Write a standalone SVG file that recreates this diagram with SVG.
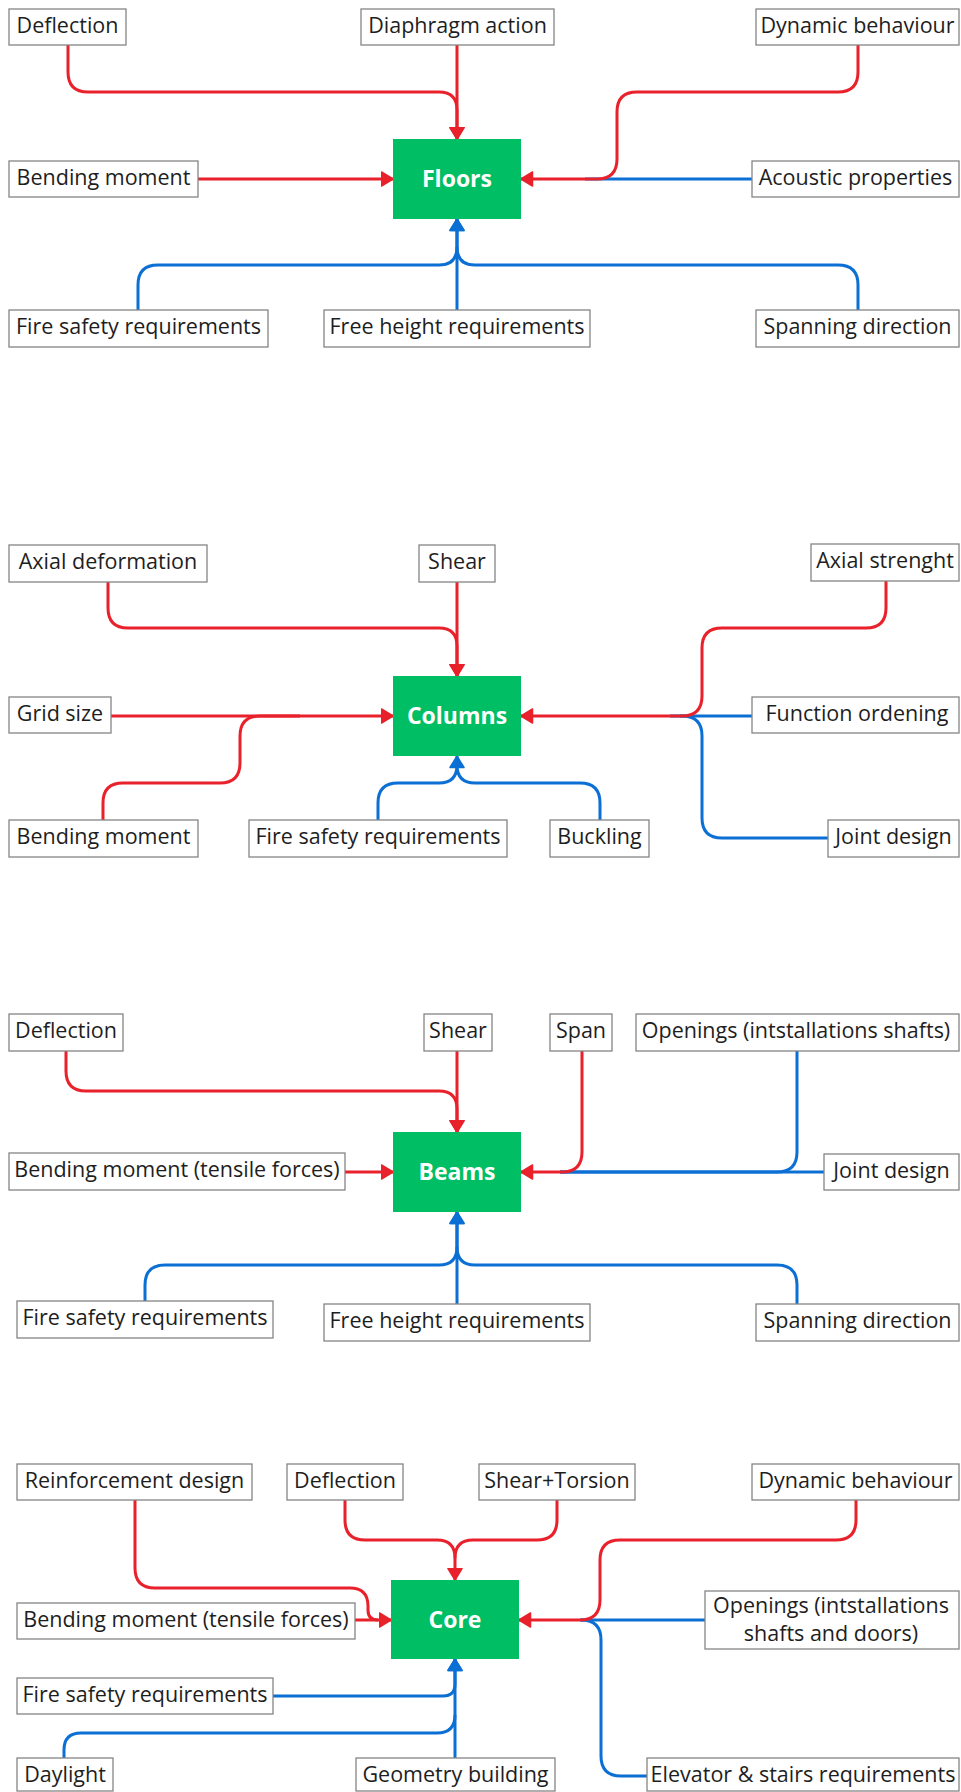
<svg xmlns="http://www.w3.org/2000/svg" width="961" height="1792" viewBox="0 0 961 1792">
  <style>
    .box { fill: #ffffff; stroke: #858585; stroke-width: 1.3; }
    .lbl { font-family: "Open Sans", "Noto Sans", "Liberation Sans", sans-serif; font-size: 21.5px; fill: #1e1e1e; text-anchor: middle; }
    .hub { fill: #00BE63; }
    .hubtxt { font-family: "Open Sans", "Noto Sans", "Liberation Sans", sans-serif; font-size: 23px; font-weight: bold; fill: #ffffff; text-anchor: middle; }
    .red { fill: none; stroke: #E8212B; stroke-width: 3; stroke-linejoin: round; }
    .blue { fill: none; stroke: #0B6FD4; stroke-width: 3; stroke-linejoin: round; }
    .ra { marker-end: url(#arrowRed); }
    .ba { marker-end: url(#arrowBlue); }
  </style>
  <defs>
    <marker id="arrowRed" viewBox="0 0 13 16" refX="12.5" refY="8" markerWidth="13" markerHeight="16" markerUnits="userSpaceOnUse" orient="auto">
      <path d="M1,1 L12.5,8 L1,15 Z" fill="#E8212B" stroke="#E8212B" stroke-width="1.5" stroke-linejoin="round"/>
    </marker>
    <marker id="arrowBlue" viewBox="0 0 13 16" refX="12.5" refY="8" markerWidth="13" markerHeight="16" markerUnits="userSpaceOnUse" orient="auto">
      <path d="M1,1 L12.5,8 L1,15 Z" fill="#0B6FD4" stroke="#0B6FD4" stroke-width="1.5" stroke-linejoin="round"/>
    </marker>
  </defs>
  <rect width="961" height="1792" fill="#ffffff"/>

  <!-- ===================== connectors ===================== -->
  <g id="connectors">
    <!-- Floors -->
    <path class="blue" d="M752,179 H585"/>
    <path class="blue ba" d="M138,310 V285 Q138,265 158,265 H439 Q457,265 457,247 V219"/>
    <path class="blue" d="M858,310 V285 Q858,265 838,265 H475 Q457,265 457,247"/>
    <path class="blue ba" d="M457,310 V219"/>
    <path class="red ra" d="M68,45 V72 Q68,92 88,92 H439 Q457,92 457,110 V139"/>
    <path class="red ra" d="M457,45 V139"/>
    <path class="red ra" d="M858,45 V72 Q858,92 838,92 H637 Q617,92 617,112 V159 Q617,179 597,179 H521"/>
    <path class="red ra" d="M198,179 H393"/>

    <!-- Columns -->
    <path class="blue" d="M752,716 H680"/>
    <path class="blue" d="M828,838 H722 Q702,838 702,818 V736 Q702,716 682,716 H670"/>
    <path class="blue ba" d="M378,820 V803 Q378,783 398,783 H439 Q457,783 457,765 V756"/>
    <path class="blue" d="M600,820 V803 Q600,783 580,783 H475 Q457,783 457,765"/>
    <path class="red ra" d="M108,582 V608 Q108,628 128,628 H439 Q457,628 457,646 V676"/>
    <path class="red ra" d="M457,582 V676"/>
    <path class="red ra" d="M886,581 V608 Q886,628 866,628 H722 Q702,628 702,648 V696 Q702,716 682,716 H521"/>
    <path class="red ra" d="M111,716 H393"/>
    <path class="red" d="M103,820 V803 Q103,783 123,783 H220 Q240,783 240,763 V736 Q240,716 260,716 H300"/>

    <!-- Beams -->
    <path class="blue" d="M797,1051 V1152 Q797,1172 777,1172 H560"/>
    <path class="blue" d="M824,1172 H560"/>
    <path class="blue ba" d="M145,1301 V1285 Q145,1265 165,1265 H439 Q457,1265 457,1247 V1212"/>
    <path class="blue" d="M797,1304 V1285 Q797,1265 777,1265 H475 Q457,1265 457,1247"/>
    <path class="blue ba" d="M457,1304 V1212"/>
    <path class="red ra" d="M66,1051 V1071 Q66,1091 86,1091 H439 Q457,1091 457,1109 V1132"/>
    <path class="red ra" d="M457,1051 V1132"/>
    <path class="red ra" d="M582,1051 V1152 Q582,1172 562,1172 H521"/>
    <path class="red ra" d="M345,1172 H393"/>

    <!-- Core -->
    <path class="blue" d="M705,1620 H580"/>
    <path class="blue" d="M647,1776 H621 Q601,1776 601,1756 V1640 Q601,1620 581,1620"/>
    <path class="blue ba" d="M273,1696 H443 Q455,1696 455,1684 V1659"/>
    <path class="blue" d="M64,1758 V1750 Q64,1733 81,1733 H437 Q455,1733 455,1715"/>
    <path class="blue ba" d="M455,1758 V1659"/>
    <path class="red" d="M135,1500 V1568 Q135,1588 155,1588 H350 Q368,1588 368,1606 V1610 Q368,1620 378,1620"/>
    <path class="red ra" d="M355,1620 H391"/>
    <path class="red ra" d="M345,1500 V1520 Q345,1540 365,1540 H437 Q455,1540 455,1558 V1580"/>
    <path class="red" d="M557,1500 V1520 Q557,1540 537,1540 H473 Q455,1540 455,1558"/>
    <path class="red ra" d="M856,1500 V1520 Q856,1540 836,1540 H620 Q600,1540 600,1560 V1600 Q600,1620 580,1620 H519"/>
  </g>

  <!-- ===================== Floors ===================== -->
  <g id="floors">
    <rect class="hub" x="393" y="139" width="128" height="80"/>
    <text class="hubtxt" x="457" y="187">Floors</text>
  </g>
  <g id="floors-deflection"><rect class="box" x="9" y="9" width="117" height="36"/><text class="lbl" x="67.5" y="33">Deflection</text></g>
  <g id="floors-diaphragm"><rect class="box" x="361" y="9" width="193" height="36"/><text class="lbl" x="457.5" y="33">Diaphragm action</text></g>
  <g id="floors-dynamic"><rect class="box" x="756" y="9" width="203" height="36"/><text class="lbl" x="857.5" y="33">Dynamic behaviour</text></g>
  <g id="floors-bending"><rect class="box" x="9" y="161" width="189" height="36"/><text class="lbl" x="103.5" y="185">Bending moment</text></g>
  <g id="floors-acoustic"><rect class="box" x="752" y="161" width="207" height="36"/><text class="lbl" x="855.5" y="185">Acoustic properties</text></g>
  <g id="floors-fire"><rect class="box" x="9" y="310" width="259" height="37"/><text class="lbl" x="138.5" y="334">Fire safety requirements</text></g>
  <g id="floors-height"><rect class="box" x="324" y="310" width="266" height="37"/><text class="lbl" x="457" y="334">Free height requirements</text></g>
  <g id="floors-spanning"><rect class="box" x="756" y="310" width="203" height="37"/><text class="lbl" x="857.5" y="334">Spanning direction</text></g>

  <!-- ===================== Columns ===================== -->
  <g id="columns">
    <rect class="hub" x="393" y="676" width="128" height="80"/>
    <text class="hubtxt" x="457" y="724">Columns</text>
  </g>
  <g id="columns-axialdef"><rect class="box" x="9" y="545" width="198" height="37"/><text class="lbl" x="108" y="569">Axial deformation</text></g>
  <g id="columns-shear"><rect class="box" x="419" y="545" width="76" height="37"/><text class="lbl" x="457" y="569">Shear</text></g>
  <g id="columns-axialstr"><rect class="box" x="811" y="544" width="148" height="37"/><text class="lbl" x="885" y="568">Axial strenght</text></g>
  <g id="columns-grid"><rect class="box" x="9" y="697" width="102" height="36"/><text class="lbl" x="60" y="721">Grid size</text></g>
  <g id="columns-function"><rect class="box" x="752" y="697" width="207" height="36"/><text class="lbl" x="857" y="721">Function ordening</text></g>
  <g id="columns-bending"><rect class="box" x="9" y="820" width="189" height="37"/><text class="lbl" x="103.5" y="844">Bending moment</text></g>
  <g id="columns-fire"><rect class="box" x="249" y="820" width="258" height="37"/><text class="lbl" x="378" y="844">Fire safety requirements</text></g>
  <g id="columns-buckling"><rect class="box" x="550" y="820" width="99" height="37"/><text class="lbl" x="599.5" y="844">Buckling</text></g>
  <g id="columns-joint"><rect class="box" x="828" y="820" width="131" height="37"/><text class="lbl" x="893.5" y="844">Joint design</text></g>

  <!-- ===================== Beams ===================== -->
  <g id="beams">
    <rect class="hub" x="393" y="1132" width="128" height="80"/>
    <text class="hubtxt" x="457" y="1180">Beams</text>
  </g>
  <g id="beams-deflection"><rect class="box" x="9" y="1014" width="114" height="37"/><text class="lbl" x="66" y="1038">Deflection</text></g>
  <g id="beams-shear"><rect class="box" x="424" y="1014" width="68" height="37"/><text class="lbl" x="458" y="1038">Shear</text></g>
  <g id="beams-span"><rect class="box" x="550" y="1014" width="62" height="37"/><text class="lbl" x="581" y="1038">Span</text></g>
  <g id="beams-openings"><rect class="box" x="636" y="1014" width="323" height="37"/><text class="lbl" x="796" y="1038">Openings (intstallations shafts)</text></g>
  <g id="beams-bending"><rect class="box" x="9" y="1153" width="336" height="37"/><text class="lbl" x="177" y="1177">Bending moment (tensile forces)</text></g>
  <g id="beams-joint"><rect class="box" x="824" y="1154" width="135" height="36"/><text class="lbl" x="891.5" y="1178">Joint design</text></g>
  <g id="beams-fire"><rect class="box" x="17" y="1301" width="256" height="37"/><text class="lbl" x="145" y="1325">Fire safety requirements</text></g>
  <g id="beams-height"><rect class="box" x="324" y="1304" width="266" height="37"/><text class="lbl" x="457" y="1328">Free height requirements</text></g>
  <g id="beams-spanning"><rect class="box" x="756" y="1304" width="203" height="37"/><text class="lbl" x="857.5" y="1328">Spanning direction</text></g>

  <!-- ===================== Core ===================== -->
  <g id="core">
    <rect class="hub" x="391" y="1580" width="128" height="79"/>
    <text class="hubtxt" x="455" y="1628">Core</text>
  </g>
  <g id="core-reinforcement"><rect class="box" x="17" y="1464" width="235" height="36"/><text class="lbl" x="134.5" y="1488">Reinforcement design</text></g>
  <g id="core-deflection"><rect class="box" x="287" y="1464" width="116" height="36"/><text class="lbl" x="345" y="1488">Deflection</text></g>
  <g id="core-shear"><rect class="box" x="479" y="1464" width="156" height="36"/><text class="lbl" x="557" y="1488">Shear+Torsion</text></g>
  <g id="core-dynamic"><rect class="box" x="752" y="1464" width="207" height="36"/><text class="lbl" x="855.5" y="1488">Dynamic behaviour</text></g>
  <g id="core-bending"><rect class="box" x="17" y="1603" width="338" height="36"/><text class="lbl" x="186" y="1627">Bending moment (tensile forces)</text></g>
  <g id="core-openings"><rect class="box" x="705" y="1591" width="254" height="58"/><text class="lbl" x="831" y="1613">Openings (intstallations</text><text class="lbl" x="831" y="1641">shafts and doors)</text></g>
  <g id="core-fire"><rect class="box" x="17" y="1678" width="256" height="36"/><text class="lbl" x="145" y="1702">Fire safety requirements</text></g>
  <g id="core-daylight"><rect class="box" x="17" y="1758" width="96" height="33"/><text class="lbl" x="65" y="1782">Daylight</text></g>
  <g id="core-geometry"><rect class="box" x="356" y="1758" width="199" height="33"/><text class="lbl" x="455.5" y="1782">Geometry building</text></g>
  <g id="core-elevator"><rect class="box" x="647" y="1758" width="312" height="33"/><text class="lbl" x="803" y="1782">Elevator &amp; stairs requirements</text></g>
</svg>
